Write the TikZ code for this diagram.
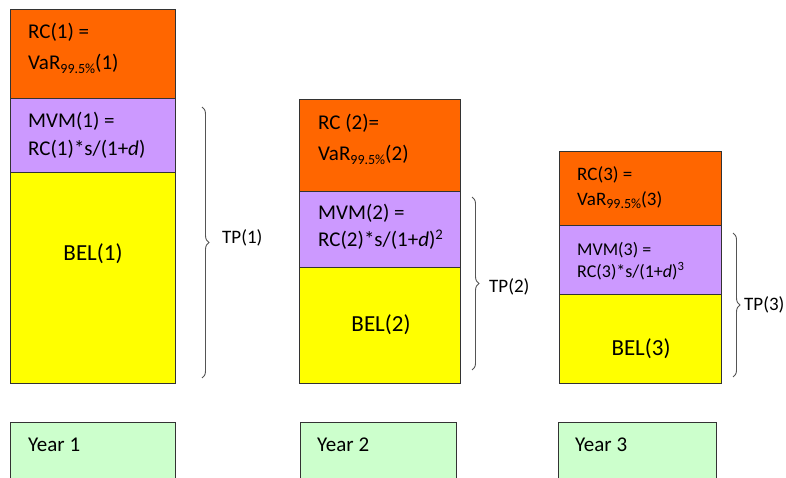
\documentclass[tikz,border=0pt]{standalone}
\usepackage{fontspec}
\setmainfont{Carlito}
\usetikzlibrary{decorations.pathreplacing}
\definecolor{rcorange}{HTML}{FF6600}
\definecolor{mvmpurple}{HTML}{CC99FF}
\definecolor{belyellow}{HTML}{FFFF00}
\definecolor{yeargreen}{HTML}{CCFFCC}
\definecolor{bracegray}{HTML}{555555}
\newcommand{\sub}[1]{\raisebox{-0.3ex}{\fontsize{14}{14}\selectfont #1}}
\begin{document}
\begin{tikzpicture}[x=1pt,y=-1pt,
  blk/.style={draw=black!80,line width=0.8pt,inner sep=0pt,outer sep=0pt},
  lbl/.style={anchor=base west,inner sep=0pt,font=\fontsize{21}{25}\selectfont},
  lblc/.style={anchor=base,inner sep=0pt,font=\fontsize{23}{27}\selectfont},
  tpl/.style={anchor=west,inner sep=0pt,font=\fontsize{19}{22}\selectfont},
  brc/.style={draw=bracegray,line width=0.9pt,decorate,decoration={brace,amplitude=7pt}}]
\useasboundingbox (0,0) rectangle (786,478);
\clip (0,0) rectangle (786,478);
% column 1
\path[blk,fill=rcorange] (10,9) rectangle (175,98);
\path[blk,fill=mvmpurple] (10,98) rectangle (175,172);
\path[blk,fill=belyellow] (10,172) rectangle (175,383);
% column 2
\path[blk,fill=rcorange] (299,99) rectangle (460,191);
\path[blk,fill=mvmpurple] (299,191) rectangle (460,267);
\path[blk,fill=belyellow] (299,267) rectangle (460,383);
% column 3
\path[blk,fill=rcorange] (559,151) rectangle (721,225);
\path[blk,fill=mvmpurple] (559,225) rectangle (721,294);
\path[blk,fill=belyellow] (559,294) rectangle (721,383);
% year boxes
\path[blk,fill=yeargreen] (10,422) rectangle (175,490);
\path[blk,fill=yeargreen] (300,422) rectangle (456,490);
\path[blk,fill=yeargreen] (558,422) rectangle (716,490);
% texts column 1
\node[lbl] (rc1a) at (28,39) {RC(1) =};
\node[lbl] (rc1b) at (28,70) {VaR\sub{99.5\%}(1)};
\node[lbl] (mvm1a) at (28,128) {MVM(1) =};
\node[lbl] (mvm1b) at (28,156) {RC(1)*s/(1+\textit{d})};
\node[lblc] (bel1) at (93,260) {BEL(1)};
% texts column 2
\node[lbl] (rc2a) at (318,130) {RC (2)=};
\node[lbl] (rc2b) at (318,161) {VaR\sub{99.5\%}(2)};
\node[lbl] (mvm2a) at (318,220) {MVM(2) =};
\node[lbl] (mvm2b) at (318,247) {RC(2)*s/(1+\textit{d})\textsuperscript{2}};
\node[lblc] (bel2) at (381,331) {BEL(2)};
% texts column 3
\node[lbl,font=\fontsize{19}{23}\selectfont] (rc3a) at (577,181) {RC(3) =};
\node[lbl,font=\fontsize{19}{23}\selectfont] (rc3b) at (577,206) {VaR\sub{99.5\%}(3)};
\node[lbl,font=\fontsize{18}{22}\selectfont] (mvm3a) at (577,255) {MVM(3) =};
\node[lbl,font=\fontsize{18}{22}\selectfont] (mvm3b) at (577,277) {RC(3)*s/(1+\textit{d})\textsuperscript{3}};
\node[lblc] (bel3) at (641,355) {BEL(3)};
% year labels
\node[lbl] (y1) at (28,451) {Year 1};
\node[lbl] (y2) at (317,451) {Year 2};
\node[lbl] (y3) at (575,451) {Year 3};
% braces
\coordinate (b1t) at (202,107);
\coordinate (b1b) at (202,378);
\coordinate (b2t) at (472,197);
\coordinate (b2b) at (472,370);
\coordinate (b3t) at (733,233);
\coordinate (b3b) at (733,377);
\draw[brc] (b1t) -- (b1b);
\draw[brc] (b2t) -- (b2b);
\draw[brc] (b3t) -- (b3b);
\node[tpl] (tp1) at (222,238) {TP(1)};
\node[tpl] (tp2) at (489,287) {TP(2)};
\node[tpl] (tp3) at (744,305) {TP(3)};
\end{tikzpicture}
\end{document}
